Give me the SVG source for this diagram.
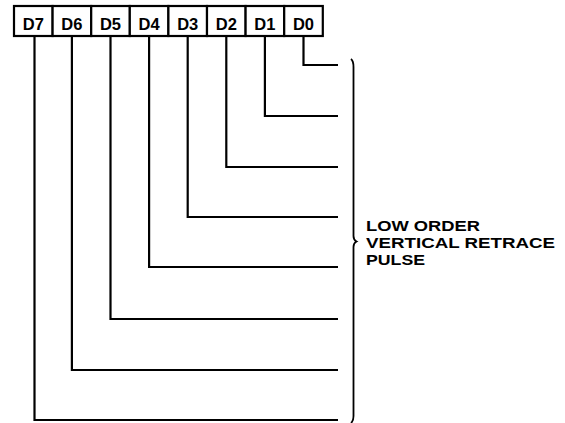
<svg xmlns="http://www.w3.org/2000/svg" width="565" height="423" viewBox="0 0 565 423">
<style>
.cell{fill:#fff;stroke:#000;stroke-width:2.2}
.lbl{font-family:"Liberation Sans",Arial,sans-serif;font-weight:bold;font-size:16.5px;fill:#000;text-anchor:middle}
.wire{fill:none;stroke:#000;stroke-width:2.2;stroke-linejoin:miter}
.brace{fill:none;stroke:#000;stroke-width:1.8}
.note{font-family:"Liberation Sans",Arial,sans-serif;font-weight:bold;font-size:15px;fill:#000}
</style>
<rect width="565" height="423" fill="#fff"/>
<g id="register">
<g id="D7"><rect class="cell" x="14" y="6" width="38.6" height="30"/><text class="lbl" x="33.3" y="29.5">D7</text></g>
<g id="D6"><rect class="cell" x="52.6" y="6" width="38.6" height="30"/><text class="lbl" x="71.9" y="29.5">D6</text></g>
<g id="D5"><rect class="cell" x="91.2" y="6" width="38.6" height="30"/><text class="lbl" x="110.5" y="29.5">D5</text></g>
<g id="D4"><rect class="cell" x="129.8" y="6" width="38.6" height="30"/><text class="lbl" x="149.1" y="29.5">D4</text></g>
<g id="D3"><rect class="cell" x="168.4" y="6" width="38.6" height="30"/><text class="lbl" x="187.7" y="29.5">D3</text></g>
<g id="D2"><rect class="cell" x="207" y="6" width="38.6" height="30"/><text class="lbl" x="226.3" y="29.5">D2</text></g>
<g id="D1"><rect class="cell" x="245.6" y="6" width="38.6" height="30"/><text class="lbl" x="264.9" y="29.5">D1</text></g>
<g id="D0"><rect class="cell" x="284.2" y="6" width="38.6" height="30"/><text class="lbl" x="303.5" y="29.5">D0</text></g>
</g>
<g id="connectors">
<polyline class="wire" points="303.5,37 303.5,65 338,65"/>
<polyline class="wire" points="264.9,37 264.9,116 338,116"/>
<polyline class="wire" points="226.3,37 226.3,167 338,167"/>
<polyline class="wire" points="187.7,37 187.7,217 338,217"/>
<polyline class="wire" points="149.1,37 149.1,267 338,267"/>
<polyline class="wire" points="110.5,37 110.5,319 338,319"/>
<polyline class="wire" points="71.9,37 71.9,370 338,370"/>
<polyline class="wire" points="34.5,37 34.5,420 338,420"/>
</g>
<g id="label">
<path class="brace" d="M351,59 Q353.5,61 353.5,67 L353.5,236 Q353.5,240 356.5,241.5 Q353.5,243 353.5,247 L353.5,416 Q353.5,421 351,423"/>
<text class="note" x="366" y="231" textLength="114" lengthAdjust="spacingAndGlyphs">LOW ORDER</text>
<text class="note" x="366" y="248" textLength="189" lengthAdjust="spacingAndGlyphs">VERTICAL RETRACE</text>
<text class="note" x="366" y="265" textLength="59" lengthAdjust="spacingAndGlyphs">PULSE</text>
</g>
</svg>
